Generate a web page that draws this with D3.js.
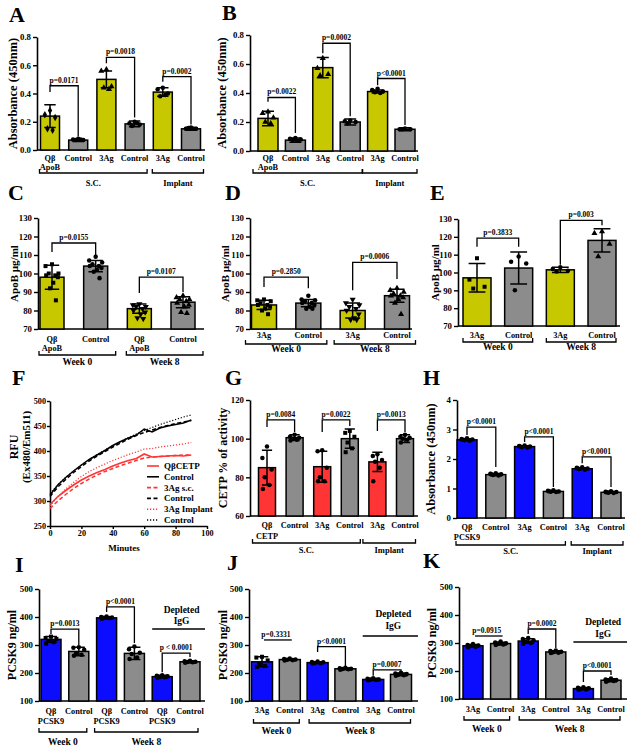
<!DOCTYPE html>
<html><head><meta charset="utf-8">
<script src="https://cdn.jsdelivr.net/npm/d3@7"></script>
<style>
body{margin:0;background:#fff}
svg{display:block}
text{font-family:"Liberation Serif","Times New Roman",serif;font-weight:bold;fill:#000}
</style></head><body>
<svg id="fig" width="631" height="747"></svg>
<script>
// ---------------- DATA ----------------
const cats6 = ["Qβ","Control","3Ag","Control","3Ag","Control"];
const catsApoB = ["Qβ","Control","Qβ","Control"];
const cats3Ag4 = ["3Ag","Control","3Ag","Control"];
const catsI = ["Qβ","Control","Qβ","Control","Qβ","Control"];
const catsJK = ["3Ag","Control","3Ag","Control","3Ag","Control"];

const ticksAbs = [0,0.2,0.4,0.6,0.8];
const ticksApoB = [70,80,90,100,110,120,130];
const ticksCETP = [60,80,100,120];
const ticksH = [0,1,2,3,4];
const ticksPCSK9 = [100,200,300,400,500];
const ticksFy = [250,300,350,400,450,500];
const ticksFx = [0,20,40,60,80,100];

// A
const meanA = [0.24,0.07,0.50,0.185,0.41,0.15];
const sdA = [0.08,0.01,0.06,0.02,0.03,0.01];
const ptsA = [[0.28,0.25,0.23,0.15,0.14],[0.08,0.075,0.07,0.07,0.075],[0.57,0.56,0.45,0.44,0.43],[0.20,0.19,0.18,0.17,0.19],[0.44,0.43,0.40,0.38,0.39],[0.16,0.15,0.15,0.155,0.15]];
const pA = ["p=0.0171","p=0.0018","p=0.0002"];
const brA = [[0,1,0.455,0.41,0.095],[2,3,0.656,0.614,0.23],[4,5,0.519,0.484,0.18]];
// B
const meanB = [0.225,0.075,0.575,0.20,0.41,0.15];
const sdB = [0.05,0.015,0.07,0.02,0.01,0.01];
const ptsB = [[0.27,0.26,0.23,0.20,0.19],[0.09,0.085,0.08,0.075,0.07],[0.64,0.57,0.53,0.52],[0.21,0.205,0.20,0.19],[0.43,0.42,0.41,0.405,0.40],[0.155,0.15,0.15,0.15]];
const pB = ["p=0.0022","p=0.0002","p<0.0001"];
const brB = [[0,1,0.369,0.339,0.125],[2,3,0.743,0.674,0.24],[4,5,0.50,0.454,0.18]];
// C
const meanC = [98,104,81,84.5];
const sdC = [6.5,3,2.5,3];
const ptsC = [[105,104,100,100,99,99,98,95,92,85.5],[109,107,106,105,104,104,103,102,101,97.5],[83.5,83,82,82,81,80,79,78,76,75.5],[88,87,86,86,85,84,83,82,79,78.5]];
const pC = ["p=0.0155","p=0.0107"];
const brC = [[0,1,116.5,111.6,110],[2,3,98,89.5,90]];
// D
const meanD = [83,84,80,88];
const sdD = [2.5,2,4,3.5];
const ptsD = [[86,85.5,85,84,83,83,82,81,80,78],[88,86,85.5,85,84,84,83,82,81,81],[86,84,83,82,81,80,78,76,75,75],[92,91,90,89,88,88,87,86,84,78]];
const pD = ["p=0.2850","p=0.0006"];
const brD = [[0,1,98,92.7,92],[2,3,106,91,97]];
// E
const meanE = [97,102.5,101.5,118];
const sdE = [8,9,1.5,6.5];
const ptsE = [[108,96,92,91],[109,106,105,90],[103,102,101,100.5],[123,122,116,109]];
const pE = ["p=0.3833","p=0.003"];
const brE = [[0,1,119.3,114.5,114.5],[2,3,129.2,104.3,126.5]];
// F
const minutesF = [0,5,10,15,20,25,30,35,40,45,50,55,60,65,70,75,80,85,90];
const rfuQbCETP = [293,309,321,332,342,350,357,363,370,376,381,385,394,388,389,390,391,390,392];
const rfuCtl1 = [312,332,347,360,372,383,392,401,411,419,426,432,444,438,446,450,453,456,462];
const rfu3AgSc = [285,300,313,325,335,344,352,359,365,371,376,381,386,388,389,390,391,392,392];
const rfuCtl2 = [309,328,343,357,369,380,390,399,408,416,424,431,437,442,447,451,455,458,461];
const rfu3AgImp = [290,309,324,337,349,359,367,374,381,387,393,398,404,405,408,410,412,414,417];
const rfuCtl3 = [315,333,347,360,372,383,393,402,411,419,427,434,441,447,453,458,463,468,472];
const legendF = ["QβCETP","Control","3Ag s.c.","Control","3Ag Implant","Control"];
// G
const meanG = [85,100.5,85.5,100,88,100];
const sdG = [9,1.5,8,5,5,2];
const ptsG = [[96,90,84,80,76,74],[102,101,100.5,100,99.5,99],[94,93.5,85,80,78,78],[104,103,101,98,95,93],[92,91,89,88,85,78],[102,101,100.5,100,99.5,98]];
const pG = ["p=0.0084","p=0.0022","p=0.0013"];
const brG = [[0,1,109.7,106,103.4],[2,3,109.7,103.4,106.5],[4,5,109.7,104,103.4]];
// H
const meanH = [2.65,1.47,2.42,0.90,1.67,0.87];
const sdH = [0.04,0.04,0.03,0.03,0.03,0.03];
const ptsH = [[2.70,2.68,2.66,2.64,2.62,2.66],[1.52,1.50,1.48,1.46,1.44,1.49],[2.46,2.44,2.42,2.40,2.39,2.43],[0.94,0.92,0.90,0.89,0.88,0.91],[1.72,1.70,1.68,1.66,1.64,1.69],[0.91,0.89,0.88,0.86,0.85,0.87]];
const pH = ["p<0.0001","p<0.0001","p<0.0001"];
const brH = [[0,1,3.08,2.81,1.73],[2,3,2.75,2.58,1.05],[4,5,2.07,1.86,1.05]];
// I
const meanI = [320,277,397,270,187,240];
const sdI = [10,15,4,22,5,4];
const ptsI = [[330,325,322,315,310,305],[292,290,283,270,265,262],[402,400,398,397,396,394],[295,285,272,268,255,250],[192,190,188,186,185,183],[244,242,240,239,238,237]];
const pI = ["p=0.0013","p<0.0001","p < 0.0001"];
const brI = [[0,1,357,339,300],[2,3,436,418,307],[4,5,271,203,257]];
// J
const meanJ = [240,248,237,215,177,195];
const sdJ = [18,3,3,3,4,5];
const ptsJ = [[258,255,245,232,225,222],[252,250,248,247,246,245],[241,239,238,236,235,234],[219,217,215,214,213,212],[181,179,177,176,175,174],[201,198,196,194,192,190]];
const pJ = ["p=0.3331","p<0.0001","p=0.0007"];
const brJ = [[0,1,318,null,null],[2,3,294,275,225],[4,5,211,190,203]];
// K
const meanK = [290,298,307,268,137,167];
const sdK = [5,5,8,4,4,5];
const ptsK = [[296,293,291,289,287,285],[305,302,299,297,295,293],[318,314,310,305,300,297],[273,271,269,267,265,264],[142,140,138,136,134,133],[173,170,168,166,164,162]];
const pK = ["p=0.0915","p=0.0002","p<0.0001"];
const brK = [[0,1,325,null,null],[2,3,350,332,282],[4,5,200,161,186]];

// ---------------- DRAWING ----------------
const svg = d3.select("#fig");
svg.append("rect").attr("width",631).attr("height",747).attr("fill","#fff");
const YEL="#c8c800", GRY="#8c8c8c", RED="#ff3535", BLU="#0c0cff";
const SYM = {circle:d3.symbolCircle,square:d3.symbolSquare,triangle:d3.symbolTriangle,tridown:d3.symbolTriangle,diamond:d3.symbolDiamond};
const JIT=[0,-1,1,-0.5,0.5,-0.9,0.9,0.2,-0.3,0.6];

function styleAxis(ax,fs){
  ax.attr("font-size",fs||8.8).attr("font-family",null);
  ax.select(".domain").attr("stroke-width",1.6);
  ax.selectAll(".tick line").attr("stroke-width",1.4);
}

function barPanel(c){
  const g=svg.append("g");
  const y=d3.scaleLinear().domain(c.domain).range([c.yBot,c.yTop]);
  const x=d3.scalePoint().domain(d3.range(c.cats.length)).range([c.c0,c.c1]);
  g.append("text").attr("x",c.letterX).attr("y",c.letterY).attr("font-size",22).text(c.letter);
  const ax=g.append("g").attr("transform",`translate(${c.x0},0)`)
    .call(d3.axisLeft(y).tickValues(c.ticks).tickSize(4).tickSizeOuter(0).tickPadding(2).tickFormat(c.fmt));
  styleAxis(ax);
  g.append("line").attr("x1",c.x0).attr("x2",c.xEnd).attr("y1",c.yBot).attr("y2",c.yBot).attr("stroke","#000").attr("stroke-width",1.6);
  g.append("text").attr("transform",`translate(${c.ylx},${(c.yTop+c.yBot)/2+ (c.ylOff||0)}) rotate(-90)`)
    .attr("text-anchor","middle").attr("dominant-baseline","central").attr("font-size",c.yls).text(c.ylabel);
  // bars
  c.means.forEach((m,i)=>{
    g.append("rect").attr("x",x(i)-c.bw/2).attr("y",y(m)).attr("width",c.bw).attr("height",c.yBot-y(m))
      .attr("fill",c.colors[i%2]).attr("stroke","#000").attr("stroke-width",1.5);
  });
  // error bars
  const cw=c.bw*0.3;
  c.means.forEach((m,i)=>{
    const lo=y(m-c.sds[i]), hi=y(m+c.sds[i]), cx=x(i);
    g.append("path").attr("d",`M${cx},${lo}V${hi}M${cx-cw},${hi}H${cx+cw}M${cx-cw},${lo}H${cx+cw}`)
      .attr("stroke","#000").attr("stroke-width",1.5).attr("fill","none");
  });
  // points
  c.pts.forEach((arr,i)=>{
    const sname=c.syms[i];
    arr.forEach((v,j)=>{
      const px=x(i)+JIT[j%10]*c.bw*0.27, py=y(v);
      g.append("path").attr("d",d3.symbol(SYM[sname],c.psize||16)())
        .attr("transform",`translate(${px},${py})`+(sname==="tridown"?" rotate(180)":""))
        .attr("fill","#000");
    });
  });
  // significance brackets
  c.brackets.forEach((b,k)=>{
    const [i,j,h,l1,l2]=b;
    let d;
    if(l1===null){ d=`M${x(i)+2},${y(h)}H${x(j)+2}`; }
    else d=`M${x(i)},${y(l1)}V${y(h)}H${x(j)}V${y(l2)}`;
    g.append("path").attr("d",d).attr("stroke","#000").attr("stroke-width",1.3).attr("fill","none");
    g.append("text").attr("x",(x(i)+x(j))/2).attr("y",y(h)-3).attr("text-anchor","middle").attr("font-size",7.5).text(c.pvals[k]);
  });
  // category labels
  c.cats.forEach((t,i)=>{
    g.append("text").attr("x",x(i)).attr("y",c.catY).attr("text-anchor","middle").attr("font-size",8.3).text(t);
  });
  (c.subs||[]).forEach((t,i)=>{
    if(t) g.append("text").attr("x",x(i)).attr("y",c.subY).attr("text-anchor","middle").attr("font-size",8.3).text(t);
  });
  // group brackets
  c.groups.forEach(([i,j,t])=>{
    const l=x(i)-c.bw/2-c.gpadL, r=x(j)+c.bw/2+c.gpadR;
    g.append("path").attr("d",`M${l},${c.gY-4}V${c.gY}H${r}V${c.gY-4}`).attr("stroke","#000").attr("stroke-width",1.3).attr("fill","none");
    g.append("text").attr("x",(l+r)/2).attr("y",c.gLY).attr("text-anchor","middle").attr("font-size",c.gfs).text(t);
  });
  if(c.depl){
    const l=x(4)-c.bw/2, r=c.xEnd;
    g.append("text").attr("x",(l+r)/2+3).attr("y",c.depl[0]).attr("text-anchor","middle").attr("font-size",9.5).text("Depleted");
    g.append("text").attr("x",(l+r)/2+3).attr("y",c.depl[1]).attr("text-anchor","middle").attr("font-size",9.5).text("IgG");
    g.append("line").attr("x1",l).attr("x2",r).attr("y1",c.depl[2]).attr("y2",c.depl[2]).attr("stroke","#000").attr("stroke-width",1.3);
  }
}

const f1=d3.format(".1f"), f0=d3.format("d");
const sixSyms=["diamond","circle","triangle","circle","circle","circle"];

barPanel({letter:"A",letterX:9,letterY:22,x0:37,xEnd:205,yTop:37,yBot:150,domain:[0,0.8],ticks:ticksAbs,fmt:f1,
  cats:cats6,subs:["ApoB"],c0:50,c1:191,bw:19,means:meanA,sds:sdA,pts:ptsA,syms:sixSyms,colors:[YEL,GRY],
  brackets:brA,pvals:pA,catY:161,subY:170,groups:[[0,3,"S.C."],[4,5,"Implant"]],gY:173,gLY:186,gpadL:1,gpadR:3,gfs:8.5,
  ylabel:"Absorbance (450nm)",ylx:13,yls:12.5});
barPanel({letter:"B",letterX:222,letterY:20,x0:250,xEnd:418,yTop:35,yBot:151,domain:[0,0.8],ticks:ticksAbs,fmt:f1,
  cats:cats6,subs:["ApoB"],c0:268,c1:405,bw:20,means:meanB,sds:sdB,pts:ptsB,syms:["triangle","circle","triangle","circle","circle","circle"],colors:[YEL,GRY],
  brackets:brB,pvals:pB,catY:161,subY:170,groups:[[0,3,"S.C."],[4,5,"Implant"]],gY:173,gLY:186,gpadL:5,gpadR:2,gfs:8.5,
  ylabel:"Absorbance (450nm)",ylx:222,yls:12.5});
barPanel({letter:"C",letterX:8,letterY:200,x0:38,xEnd:204,yTop:218,yBot:329,domain:[70,130],ticks:ticksApoB,fmt:f0,
  cats:catsApoB,subs:["ApoB","","ApoB",""],c0:52,c1:183,bw:24,means:meanC,sds:sdC,pts:ptsC,syms:["square","circle","tridown","triangle"],colors:[YEL,GRY],
  brackets:brC,pvals:pC,catY:342,subY:351,groups:[[0,1,"Week 0"],[2,3,"Week 8"]],gY:355,gLY:365,gpadL:1,gpadR:8,gfs:9.5,
  ylabel:"ApoB µg/ml",ylx:14,yls:11});
barPanel({letter:"D",letterX:225,letterY:200,x0:250,xEnd:412,yTop:218,yBot:329,domain:[70,130],ticks:ticksApoB,fmt:f0,
  cats:cats3Ag4,c0:264,c1:397,bw:25,means:meanD,sds:sdD,pts:ptsD,syms:["square","circle","tridown","triangle"],colors:[YEL,GRY],
  brackets:brD,pvals:pD,catY:338,groups:[[0,1,"Week 0"],[2,3,"Week 8"]],gY:344,gLY:352,gpadL:6,gpadR:6,gfs:9.5,
  ylabel:"ApoB µg/ml",ylx:225,yls:11});
barPanel({letter:"E",letterX:430,letterY:200,x0:458,xEnd:620,yTop:219,yBot:326,domain:[70,130],ticks:ticksApoB,fmt:f0,
  cats:cats3Ag4,c0:477,c1:602,bw:28,means:meanE,sds:sdE,pts:ptsE,syms:["square","circle","circle","triangle"],colors:[YEL,GRY],
  brackets:brE,pvals:pE,catY:338,groups:[[0,1,"Week 0"],[2,3,"Week 8"]],gY:342,gLY:350,gpadL:0,gpadR:0,gfs:9.5,
  ylabel:"ApoB µg/ml",ylx:435,yls:11});
barPanel({letter:"G",letterX:225,letterY:385,x0:250,xEnd:418,yTop:400,yBot:516,domain:[60,120],ticks:ticksCETP,fmt:f0,
  cats:cats6,subs:["CETP"],c0:267,c1:405,bw:17,means:meanG,sds:sdG,pts:ptsG,syms:["circle","circle","circle","square","circle","circle"],colors:[RED,GRY],
  brackets:brG,pvals:pG,catY:528,subY:539,groups:[[0,3,"S.C."],[4,5,"Implant"]],gY:543,gLY:553,gpadL:6,gpadR:2,gfs:8.5,
  ylabel:"CETP % of activity",ylx:223,yls:12});
barPanel({letter:"H",letterX:423,letterY:385,x0:457,xEnd:625,yTop:400,yBot:518,domain:[0,4],ticks:ticksH,fmt:f0,
  cats:cats6,subs:["PCSK9"],c0:467,c1:611,bw:20,means:meanH,sds:sdH,pts:ptsH,syms:["circle","circle","circle","circle","circle","circle"],colors:[BLU,GRY],
  brackets:brH,pvals:pH,catY:530,subY:540,groups:[[0,3,"S.C."],[4,5,"Implant"]],gY:545,gLY:554,gpadL:1,gpadR:2,gfs:8.5,
  ylabel:"Absorbance (450nm)",ylx:431,yls:12.5});
barPanel({letter:"I",letterX:15,letterY:572,x0:39,xEnd:205,yTop:589,yBot:701,domain:[100,500],ticks:ticksPCSK9,fmt:f0,
  cats:catsI,subs:["PCSK9","","PCSK9","","PCSK9",""],c0:51,c1:190,bw:20,means:meanI,sds:sdI,pts:ptsI,syms:["square","circle","circle","circle","circle","circle"],colors:[BLU,GRY],
  brackets:brI,pvals:pI,catY:714,subY:724,groups:[[0,1,"Week 0"],[2,5,"Week 8"]],gY:732,gLY:745,gpadL:2,gpadR:-2,gfs:9.5,
  depl:[613,624,629],ylabel:"PCSK9 ng/ml",ylx:12,yls:12});
barPanel({letter:"J",letterX:227,letterY:570,x0:249,xEnd:418,yTop:589,yBot:701,domain:[100,500],ticks:ticksPCSK9,fmt:f0,
  cats:catsJK,c0:262,c1:401,bw:21,means:meanJ,sds:sdJ,pts:ptsJ,syms:["square","circle","circle","circle","circle","circle"],colors:[BLU,GRY],
  brackets:brJ,pvals:pJ,catY:713,groups:[[0,1,"Week 0"],[2,5,"Week 8"]],gY:723,gLY:734,gpadL:-2,gpadR:-1,gfs:9.5,
  depl:[617,629,636],ylabel:"PCSK9 ng/ml",ylx:223,yls:12});
barPanel({letter:"K",letterX:423,letterY:568,x0:459,xEnd:627,yTop:587,yBot:699,domain:[100,500],ticks:ticksPCSK9,fmt:f0,
  cats:catsJK,c0:473,c1:611,bw:20,means:meanK,sds:sdK,pts:ptsK,syms:["circle","circle","circle","circle","circle","circle"],colors:[BLU,GRY],
  brackets:brK,pvals:pK,catY:712,groups:[[0,1,"Week 0"],[2,5,"Week 8"]],gY:720,gLY:732,gpadL:-1,gpadR:-1,gfs:9.5,
  depl:[625,637,642],ylabel:"PCSK9 ng/ml",ylx:432,yls:12});

// ---- Panel F (line chart) ----
(function(){
  const g=svg.append("g");
  const x=d3.scaleLinear().domain([0,100]).range([50,207]);
  const y=d3.scaleLinear().domain([250,500]).range([526,401]);
  g.append("text").attr("x",12).attr("y",385).attr("font-size",22).text("F");
  const ay=g.append("g").attr("transform","translate(50,0)").call(d3.axisLeft(y).tickValues(ticksFy).tickSize(3).tickSizeOuter(0).tickPadding(1));
  styleAxis(ay,8.2);
  const axx=g.append("g").attr("transform","translate(0,526)").call(d3.axisBottom(x).tickValues(ticksFx).tickSize(3).tickSizeOuter(0).tickPadding(1));
  styleAxis(axx,8.2);
  g.append("text").attr("x",124).attr("y",551).attr("text-anchor","middle").attr("font-size",9).text("Minutes");
  g.append("text").attr("transform","translate(14,447) rotate(-90)").attr("text-anchor","middle").attr("dominant-baseline","central").attr("font-size",12).text("RFU");
  g.append("text").attr("transform","translate(26,447) rotate(-90)").attr("text-anchor","middle").attr("dominant-baseline","central").attr("font-size",11).text("(Ex480/Em511)");
  const series=[
    {v:rfuCtl3,c:"#000",da:"1.2,1.8",w:1.2},
    {v:rfuCtl2,c:"#000",da:"4,2.5",w:1.5},
    {v:rfuCtl1,c:"#000",da:null,w:1.5},
    {v:rfu3AgImp,c:RED,da:"1.2,1.8",w:1.2},
    {v:rfu3AgSc,c:RED,da:"4,2.5",w:1.5},
    {v:rfuQbCETP,c:RED,da:null,w:1.6}
  ];
  const line=d3.line().x((d,i)=>x(minutesF[i])).y(d=>y(d));
  series.forEach(s=>{
    g.append("path").attr("d",line(s.v)).attr("fill","none").attr("stroke",s.c).attr("stroke-width",s.w)
      .attr("stroke-dasharray",s.da);
  });
  const legStyle=[[RED,null],["#000",null],[RED,"4,2.5"],["#000","4,2.5"],[RED,"1.2,1.8"],["#000","1.2,1.8"]];
  legendF.forEach((t,k)=>{
    const ly=466+k*10.8;
    g.append("line").attr("x1",147).attr("x2",159).attr("y1",ly).attr("y2",ly).attr("stroke",legStyle[k][0]).attr("stroke-width",1.6).attr("stroke-dasharray",legStyle[k][1]);
    g.append("text").attr("x",164).attr("y",ly).attr("dominant-baseline","central").attr("font-size",9).text(t);
  });
})();
</script></body></html>
